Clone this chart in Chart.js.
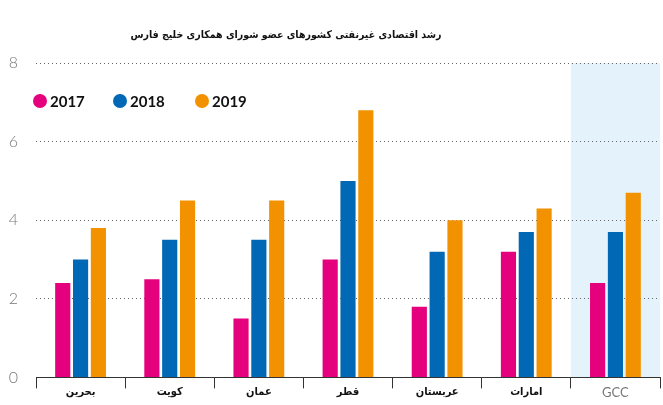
<!DOCTYPE html>
<html>
<head>
<meta charset="utf-8">
<script src="https://cdn.jsdelivr.net/npm/chart.js@4"></script>
<style>
  html, body { margin: 0; padding: 0; background: #fff; }
  #wrap { width: 663px; height: 405px; }
</style>
</head>
<body>
<div id="wrap"><canvas id="gccChart" width="663" height="405"></canvas></div>
<script>
var title = "رشد اقتصادی غیرنفتی کشورهای عضو شورای همکاری خلیج فارس";
var countries = ["بحرین", "کویت", "عمان", "قطر", "عربستان", "امارات", "GCC"];
var years = ["2017", "2018", "2019"];
var g2017 = [2.4, 2.5, 1.5, 3.0, 1.8, 3.2, 2.4];
var g2018 = [3.0, 3.5, 3.5, 5.0, 3.2, 3.7, 3.7];
var g2019 = [3.8, 4.5, 4.5, 6.8, 4.0, 4.3, 4.7];
var yTicks = [0, 2, 4, 6, 8];

var colors = ["#e5007d", "#0068b4", "#f39200"];

// light blue band behind the GCC group
var bandPlugin = {
    id: "band",
    beforeDraw: function (chart) {
        var c = chart.ctx, x = chart.scales.x, a = chart.chartArea;
        var i = countries.indexOf("GCC");
        var half = (x.getPixelForValue(1) - x.getPixelForValue(0)) / 2;
        var cx = x.getPixelForValue(i);
        c.save();
        c.fillStyle = "#e4f2fb";
        c.fillRect(cx - half, a.top, half * 2, a.bottom - a.top);
        c.restore();
    }
};

// title + legend drawn at fixed spots like the original
var headPlugin = {
    id: "head",
    afterDraw: function (chart) {
        var c = chart.ctx;
        c.save();
        c.fillStyle = "#111";
        c.font = "bold 10.5px 'DejaVu Sans Condensed'";
        c.textAlign = "center";
        c.textBaseline = "middle";
        c.fillText(title, 286, 35);

        var xs = [40, 120, 202];
        c.textAlign = "left";
        c.font = "bold 15px Lato";
        chart.data.datasets.forEach(function (ds, k) {
            c.fillStyle = ds.backgroundColor;
            c.beginPath();
            c.arc(xs[k], 101, 7, 0, Math.PI * 2);
            c.fill();
            c.fillStyle = "#111";
            c.fillText(ds.label, xs[k] + 10, 102);
        });
        c.restore();
    }
};

var ctx = document.getElementById("gccChart");
var gccChart = new Chart(ctx, {
    type: "bar",
    data: {
        labels: countries,
        datasets: [
            { label: years[0], data: g2017, backgroundColor: colors[0] },
            { label: years[1], data: g2018, backgroundColor: colors[1] },
            { label: years[2], data: g2019, backgroundColor: colors[2] }
        ]
    },
    options: {
        responsive: false,
        animation: false,
        categoryPercentage: 0.6,
        barPercentage: 0.85,
        layout: { padding: { top: 63, right: 3, left: 0, bottom: 0 } },
        plugins: {
            legend: { display: false },
            title: { display: false },
            tooltip: { enabled: false }
        },
        scales: {
            x: {
                offset: true,
                grid: {
                    offset: true,
                    drawOnChartArea: false,
                    drawTicks: true,
                    tickLength: 11,
                    color: "#333",
                    lineWidth: 1
                },
                border: { display: true, color: "#333", width: 1 },
                ticks: {
                    padding: -3,
                    color: function (c) { return c.index === 6 ? "#777" : "#111"; },
                    font: function (c) {
                        return c.index === 6
                            ? { family: "Lato", size: 13, weight: "normal" }
                            : { family: "DejaVu Sans Condensed", size: 11, weight: "bold" };
                    }
                },
                afterFit: function (s) { s.height = 26; }
            },
            y: {
                min: 0,
                max: 8,
                afterBuildTicks: function (s) {
                    s.ticks = yTicks.map(function (v) { return { value: v }; });
                },
                grid: {
                    drawTicks: false,
                    color: "#666",
                    lineWidth: 1
                },
                border: { display: false, dash: [1, 3] },
                ticks: {
                    padding: 18,
                    color: "#777",
                    font: { family: "Lato", size: 16, weight: 300 }
                },
                afterFit: function (s) { s.width = 36; }
            }
        }
    },
    plugins: [bandPlugin, headPlugin]
});
</script>
</body>
</html>
